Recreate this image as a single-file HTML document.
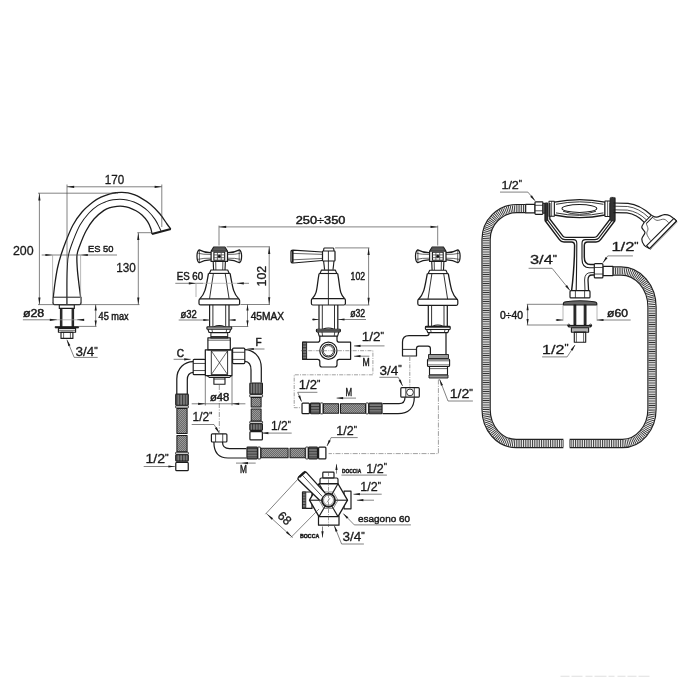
<!DOCTYPE html>
<html lang="en"><head><meta charset="utf-8"><title>Bath mixer technical drawing</title>
<style>html,body{margin:0;padding:0;background:#fff;}body{width:700px;height:700px;overflow:hidden;}svg{display:block;filter:grayscale(1);}
text{font-family:"Liberation Sans",sans-serif;}</style></head><body>
<svg width="700" height="700" viewBox="0 0 700 700" stroke-linecap="butt" stroke-linejoin="round">
<rect x="0" y="0" width="700" height="700" fill="#ffffff"/>
<defs>
<pattern id="braid" width="2" height="2" patternUnits="userSpaceOnUse">
<rect width="2" height="2" fill="#9a9a9a"/>
<path d="M0 2 L2 0 M-0.5 0.5 L0.5 -0.5 M1.5 2.5 L2.5 1.5" stroke="#555" stroke-width="0.7"/>
</pattern>
<pattern id="ribv" width="2.8" height="4" patternUnits="userSpaceOnUse">
<rect width="2.8" height="4" fill="#7d7d7d"/>
<rect width="1.1" height="4" fill="#3a3a3a"/>
</pattern>
<pattern id="ribh" width="4" height="2.8" patternUnits="userSpaceOnUse">
<rect width="4" height="2.8" fill="#7d7d7d"/>
<rect width="4" height="1.1" fill="#3a3a3a"/>
</pattern>
</defs>
<g id="spout">
<path d="M53.3 297 C53.58 294.67 54.3 287.83 55 283 C55.7 278.17 56.5 272.67 57.5 268 C58.5 263.33 59.58 259.5 61 255 C62.42 250.5 64 246 66 241 C68 236 70.33 229.83 73 225 C75.67 220.17 78.67 215.83 82 212 C85.33 208.17 89.83 204.47 93 202 C96.17 199.53 98.17 198.55 101 197.2 C103.83 195.85 107.5 194.65 110 193.9 C112.5 193.15 114 192.97 116 192.7 C118 192.43 120 192.27 122 192.3 C124 192.33 126 192.52 128 192.9 C130 193.28 132 193.85 134 194.6 C136 195.35 137.33 195.83 140 197.4 C142.67 198.97 146.67 201.23 150 204 C153.33 206.77 157.17 210.67 160 214 C162.83 217.33 165.2 221.5 167 224 C168.8 226.5 170.17 228.17 170.8 229" fill="none" stroke="#1c1c1c" stroke-width="1.29"/>
<path d="M66.9 304.5 C66.9 300.42 66.82 286.42 66.9 280 C66.98 273.58 67.13 270.17 67.4 266 C67.67 261.83 67.57 259.17 68.5 255 C69.43 250.83 71.08 246 73 241 C74.92 236 77.33 229.67 80 225 C82.67 220.33 86 216.27 89 213 C92 209.73 95.17 207.3 98 205.4 C100.83 203.5 103.5 202.53 106 201.6 C108.5 200.67 110.67 200.2 113 199.8 C115.33 199.4 117.67 199.18 120 199.2 C122.33 199.22 124.67 199.43 127 199.9 C129.33 200.37 131.83 201.15 134 202 C136.17 202.85 137.67 203.5 140 205 C142.33 206.5 145.5 208.6 148 211 C150.5 213.4 153.1 216.65 155 219.4 C156.9 222.15 158.4 225.57 159.4 227.5 C160.4 229.43 160.73 230.42 161 231" fill="none" stroke="#1c1c1c" stroke-width="1.01"/>
<path d="M80.6 297 C80.3 294.67 79.35 287.73 78.8 283 C78.25 278.27 77.6 273.27 77.3 268.6 C77 263.93 76.55 258.93 77 255 C77.45 251.07 78.5 249 80 245 C81.5 241 83.67 235.33 86 231 C88.33 226.67 91 222.43 94 219 C97 215.57 101.17 212.33 104 210.4 C106.83 208.47 108.83 208.08 111 207.4 C113.17 206.72 115 206.48 117 206.3 C119 206.12 121 206.08 123 206.3 C125 206.52 126.83 206.85 129 207.6 C131.17 208.35 133.83 209.57 136 210.8 C138.17 212.03 140.07 213.2 142 215 C143.93 216.8 146.13 219.35 147.6 221.6 C149.07 223.85 150.07 226.43 150.8 228.5 C151.53 230.57 151.8 233.08 152 234" fill="none" stroke="#1c1c1c" stroke-width="1.29"/>
<line x1="152" y1="234" x2="170.8" y2="229" stroke="#1c1c1c" stroke-width="2.24"/>
<path d="M53 297 L53 303 Q53 304.6 54.6 304.6 L79.4 304.6 Q81 304.6 81 303 L81 297" fill="none" stroke="#1c1c1c" stroke-width="1.23"/>
<line x1="53" y1="297.2" x2="81" y2="297.2" stroke="#1c1c1c" stroke-width="1.01"/>
<rect x="59.3" y="304.6" width="15" height="3.8" rx="0" fill="none" stroke="#1c1c1c" stroke-width="1.12"/>
<rect x="60.4" y="308.4" width="1.5" height="18" rx="0" fill="#333" stroke="#1c1c1c" stroke-width="1.01"/>
<rect x="72.1" y="308.4" width="1.5" height="18" rx="0" fill="#333" stroke="#1c1c1c" stroke-width="1.01"/>
<rect x="55.2" y="326.5" width="23.4" height="1.5" rx="0" fill="#1c1c1c" stroke="#1c1c1c" stroke-width="0.67"/>
<rect x="58.4" y="328.4" width="17.2" height="3.8" rx="0" fill="none" stroke="#1c1c1c" stroke-width="1.12"/>
<line x1="58.4" y1="330.3" x2="75.6" y2="330.3" stroke="#1c1c1c" stroke-width="0.67"/>
<rect x="61" y="332.2" width="11.9" height="6.2" rx="0" fill="none" stroke="#1c1c1c" stroke-width="1.12"/>
<line x1="63.6" y1="332.2" x2="63.6" y2="338.4" stroke="#1c1c1c" stroke-width="0.67"/>
<line x1="70.4" y1="332.2" x2="70.4" y2="338.4" stroke="#1c1c1c" stroke-width="0.67"/>
<line x1="67" y1="184.5" x2="67" y2="304" stroke="#4a4a4a" stroke-width="0.69"/>
<line x1="161.8" y1="184.5" x2="161.8" y2="227" stroke="#4a4a4a" stroke-width="0.69"/>
<line x1="67" y1="186.8" x2="161.8" y2="186.8" stroke="#4a4a4a" stroke-width="0.69"/>
<polygon points="67,186.8 74.2,185.7 74.2,187.9" fill="#1c1c1c"/>
<polygon points="161.8,186.8 154.6,187.9 154.6,185.7" fill="#1c1c1c"/>
<text x="104.8" y="184.4" font-size="12.48" text-anchor="start" fill="#1a1a1a" font-weight="normal" stroke="#1a1a1a" stroke-width="0.3" textLength="19.4" lengthAdjust="spacingAndGlyphs">170</text>
<line x1="38" y1="193.2" x2="118" y2="193.2" stroke="#4a4a4a" stroke-width="0.69"/>
<line x1="39.4" y1="193.2" x2="39.4" y2="304.6" stroke="#4a4a4a" stroke-width="0.69"/>
<polygon points="39.4,193.2 40.5,200.4 38.3,200.4" fill="#1c1c1c"/>
<polygon points="39.4,304.6 38.3,297.4 40.5,297.4" fill="#1c1c1c"/>
<line x1="38" y1="304.6" x2="139.5" y2="304.6" stroke="#4a4a4a" stroke-width="0.69"/>
<text x="12.9" y="255" font-size="12.48" text-anchor="start" fill="#1a1a1a" font-weight="normal" stroke="#1a1a1a" stroke-width="0.3" textLength="20.7" lengthAdjust="spacingAndGlyphs">200</text>
<line x1="138.3" y1="232.7" x2="138.3" y2="304.6" stroke="#4a4a4a" stroke-width="0.69"/>
<polygon points="138.3,232.7 139.4,239.9 137.2,239.9" fill="#1c1c1c"/>
<polygon points="138.3,304.6 137.2,297.4 139.4,297.4" fill="#1c1c1c"/>
<line x1="137.3" y1="232.7" x2="152" y2="232.7" stroke="#4a4a4a" stroke-width="0.69"/>
<text x="116.2" y="272" font-size="12.48" text-anchor="start" fill="#1a1a1a" font-weight="normal" stroke="#1a1a1a" stroke-width="0.3" textLength="19.6" lengthAdjust="spacingAndGlyphs">130</text>
<line x1="41.7" y1="255" x2="117" y2="255" stroke="#4a4a4a" stroke-width="0.69"/>
<polygon points="52.6,255 45.4,256.1 45.4,253.9" fill="#1c1c1c"/>
<polygon points="80.6,255 87.8,253.9 87.8,256.1" fill="#1c1c1c"/>
<line x1="52.6" y1="255" x2="52.6" y2="302" stroke="#999" stroke-width="0.69"/>
<line x1="80.6" y1="255" x2="80.6" y2="302" stroke="#999" stroke-width="0.69"/>
<text x="88" y="251.5" font-size="9.54" text-anchor="start" fill="#1a1a1a" font-weight="normal" stroke="#1a1a1a" stroke-width="0.45" textLength="25.5" lengthAdjust="spacingAndGlyphs">ES 50</text>
<line x1="22.9" y1="319.8" x2="57" y2="319.8" stroke="#4a4a4a" stroke-width="0.69"/>
<line x1="57" y1="319.8" x2="77" y2="319.8" stroke="#999" stroke-width="0.69"/>
<polygon points="57,319.8 49.8,320.9 49.8,318.7" fill="#1c1c1c"/>
<line x1="77" y1="319.8" x2="83" y2="319.8" stroke="#4a4a4a" stroke-width="0.69"/>
<polygon points="77,319.8 84.2,318.7 84.2,320.9" fill="#1c1c1c"/>
<text x="22.9" y="317.1" font-size="10.6" text-anchor="start" fill="#1a1a1a" font-weight="normal" stroke="#1a1a1a" stroke-width="0.45" textLength="21.4" lengthAdjust="spacingAndGlyphs">ø28</text>
<line x1="95.7" y1="304.6" x2="95.7" y2="326.4" stroke="#4a4a4a" stroke-width="0.69"/>
<polygon points="95.7,304.6 96.8,310.6 94.6,310.6" fill="#1c1c1c"/>
<polygon points="95.7,326.4 94.6,320.4 96.8,320.4" fill="#1c1c1c"/>
<line x1="78.8" y1="326.4" x2="96.5" y2="326.4" stroke="#4a4a4a" stroke-width="0.69"/>
<text x="98.6" y="320" font-size="10.07" text-anchor="start" fill="#1a1a1a" font-weight="normal" stroke="#1a1a1a" stroke-width="0.45" textLength="30" lengthAdjust="spacingAndGlyphs">45 max</text>
<line x1="66.9" y1="339.7" x2="74.2" y2="357.4" stroke="#4a4a4a" stroke-width="0.69"/>
<line x1="74.2" y1="357.4" x2="97.7" y2="357.4" stroke="#4a4a4a" stroke-width="0.69"/>
<polygon points="66.9,339.7 70.39,345.29 68.36,346.13" fill="#1c1c1c"/>
<text x="75.4" y="356" font-size="12.48" fill="#1a1a1a" stroke="#1a1a1a" stroke-width="0.3" textLength="22.3" lengthAdjust="spacingAndGlyphs">3/4<tspan font-size="8.99" dy="-3.24">&quot;</tspan></text>
</g>
<g id="valves">
<line x1="219" y1="226.9" x2="437.7" y2="226.9" stroke="#4a4a4a" stroke-width="0.69"/>
<polygon points="219,226.9 226.2,225.8 226.2,228" fill="#1c1c1c"/>
<polygon points="437.7,226.9 430.5,228 430.5,225.8" fill="#1c1c1c"/>
<line x1="219" y1="225.6" x2="219" y2="245.5" stroke="#4a4a4a" stroke-width="0.69"/>
<line x1="437.7" y1="225.6" x2="437.7" y2="245.5" stroke="#4a4a4a" stroke-width="0.69"/>
<text x="295.7" y="224.2" font-size="11.13" text-anchor="start" fill="#1a1a1a" font-weight="normal" stroke="#1a1a1a" stroke-width="0.45" textLength="49.7" lengthAdjust="spacingAndGlyphs">250÷350</text>
<path d="M211.1 261.4 L211.1 251.2 L213.7 247 L224.9 247 L227.5 251.2 L227.5 261.4 Z" fill="none" stroke="#1c1c1c" stroke-width="1.23"/>
<path d="M214.1 247.6 L224.5 247.6 L226.5 250.5 L212.1 250.5 Z" fill="#5a5a5a" stroke="#1c1c1c" stroke-width="0.56"/>
<line x1="211.1" y1="251.2" x2="227.5" y2="251.2" stroke="#1c1c1c" stroke-width="1.01"/>
<rect x="213.9" y="252.3" width="10.8" height="8" rx="0" fill="none" stroke="#1c1c1c" stroke-width="1.12"/>
<line x1="217.4" y1="252.3" x2="217.4" y2="260.3" stroke="#444" stroke-width="0.78"/>
<line x1="221.2" y1="252.3" x2="221.2" y2="260.3" stroke="#444" stroke-width="0.78"/>
<line x1="213.9" y1="254.9" x2="224.7" y2="254.9" stroke="#444" stroke-width="0.78"/>
<line x1="213.9" y1="257.7" x2="224.7" y2="257.7" stroke="#444" stroke-width="0.78"/>
<circle cx="219.3" cy="256.3" r="1.25" fill="#111" stroke="#1c1c1c" stroke-width="0.56"/>
<path d="M211.1 252.7 C206.1 252.9 202.1 251.4 199.2 249.9 Q197 251.2 197 256.2 Q197 261.4 199.2 262.7 C202.1 261.1 206.1 259.7 211.1 259.9" fill="none" stroke="#1c1c1c" stroke-width="1.23"/>
<path d="M211.1 254.4 Q203.1 254.6 198.2 253.3" fill="none" stroke="#1c1c1c" stroke-width="0.67"/>
<path d="M211.1 258.2 Q203.1 258 198.2 259.3" fill="none" stroke="#1c1c1c" stroke-width="0.67"/>
<line x1="199.4" y1="250.4" x2="199.4" y2="262.3" stroke="#1c1c1c" stroke-width="0.67"/>
<path d="M227.5 252.7 C232.5 252.9 236.5 251.4 239.4 249.9 Q241.6 251.2 241.6 256.2 Q241.6 261.4 239.4 262.7 C236.5 261.1 232.5 259.7 227.5 259.9" fill="none" stroke="#1c1c1c" stroke-width="1.23"/>
<path d="M227.5 254.4 Q235.5 254.6 240.4 253.3" fill="none" stroke="#1c1c1c" stroke-width="0.67"/>
<path d="M227.5 258.2 Q235.5 258 240.4 259.3" fill="none" stroke="#1c1c1c" stroke-width="0.67"/>
<line x1="239.2" y1="250.4" x2="239.2" y2="262.3" stroke="#1c1c1c" stroke-width="0.67"/>
<path d="M213.2 261.4 L213.6 270" fill="none" stroke="#1c1c1c" stroke-width="1.12"/>
<path d="M225.4 261.4 L225 270" fill="none" stroke="#1c1c1c" stroke-width="1.12"/>
<line x1="215.7" y1="261.4" x2="215.9" y2="270" stroke="#1c1c1c" stroke-width="0.78"/>
<line x1="222.9" y1="261.4" x2="222.7" y2="270" stroke="#1c1c1c" stroke-width="0.78"/>
<path d="M209.4 273.4 L210.9 270 L227.7 270 L229.2 273.4" fill="none" stroke="#1c1c1c" stroke-width="1.12"/>
<line x1="208.5" y1="273.4" x2="230.1" y2="273.4" stroke="#1c1c1c" stroke-width="1.12"/>
<path d="M208.5 273.4 C205.9 287.4 205.4 293.4 199.8 298.9" fill="none" stroke="#1c1c1c" stroke-width="1.29"/>
<path d="M230.1 273.4 C232.7 287.4 233.2 293.4 238.8 298.9" fill="none" stroke="#1c1c1c" stroke-width="1.29"/>
<line x1="213.4" y1="273.4" x2="209.5" y2="298.9" stroke="#1c1c1c" stroke-width="0.9"/>
<line x1="225.2" y1="273.4" x2="229.1" y2="298.9" stroke="#1c1c1c" stroke-width="0.9"/>
<path d="M200.5 298.9 Q199 298.9 199 300.4 L199 303.4 Q199 304.9 200.5 304.9 L238.1 304.9 Q239.6 304.9 239.6 303.4 L239.6 300.4 Q239.6 298.9 238.1 298.9 Z" fill="none" stroke="#1c1c1c" stroke-width="1.23"/>
<line x1="209.6" y1="304.9" x2="209.6" y2="326.7" stroke="#1c1c1c" stroke-width="1.23"/>
<line x1="229" y1="304.9" x2="229" y2="326.7" stroke="#1c1c1c" stroke-width="1.23"/>
<line x1="212.9" y1="304.9" x2="212.9" y2="326.7" stroke="#1c1c1c" stroke-width="0.9"/>
<line x1="225.7" y1="304.9" x2="225.7" y2="326.7" stroke="#1c1c1c" stroke-width="0.9"/>
<path d="M213.8 326.7 Q219.3 324.1 224.8 326.7" fill="none" stroke="#1c1c1c" stroke-width="1.01"/>
<rect x="206.9" y="326.7" width="24.8" height="2.6" rx="0.8" fill="#fff" stroke="#1c1c1c" stroke-width="1.12"/>
<line x1="206.9" y1="327.9" x2="231.7" y2="327.9" stroke="#1c1c1c" stroke-width="0.78"/>
<path d="M207.9 329.3 L209.1 332.5 L229.5 332.5 L230.7 329.3" fill="none" stroke="#1c1c1c" stroke-width="1.12"/>
<line x1="211.9" y1="329.3" x2="212.5" y2="332.5" stroke="#1c1c1c" stroke-width="0.78"/>
<line x1="226.7" y1="329.3" x2="226.1" y2="332.5" stroke="#1c1c1c" stroke-width="0.78"/>
<rect x="210.9" y="332.7" width="16.8" height="5.2" rx="0" fill="none" stroke="#1c1c1c" stroke-width="1.01"/>
<line x1="210.9" y1="336.6" x2="227.7" y2="336.6" stroke="#1c1c1c" stroke-width="1.01"/>
<rect x="207.9" y="337.9" width="22.4" height="12" rx="0" fill="none" stroke="#1c1c1c" stroke-width="1.18"/>
<line x1="207.9" y1="340.2" x2="230.3" y2="340.2" stroke="#1c1c1c" stroke-width="0.67"/>
<rect x="205.3" y="349.9" width="26.7" height="25.7" rx="0" fill="none" stroke="#1c1c1c" stroke-width="1.23"/>
<rect x="211.3" y="350.9" width="16.3" height="23.7" rx="0" fill="none" stroke="#1c1c1c" stroke-width="0.9"/>
<line x1="211.3" y1="350.9" x2="227.6" y2="374.6" stroke="#1c1c1c" stroke-width="0.67"/>
<line x1="227.6" y1="350.9" x2="211.3" y2="374.6" stroke="#1c1c1c" stroke-width="0.67"/>
<path d="M207 375.6 L209.6 377.6 L229.3 377.6 L231.6 375.6" fill="none" stroke="#1c1c1c" stroke-width="1.01"/>
<rect x="213.9" y="377.6" width="11.1" height="6.6" rx="0" fill="none" stroke="#1c1c1c" stroke-width="1.12"/>
<line x1="213.9" y1="379.2" x2="225" y2="379.2" stroke="#1c1c1c" stroke-width="0.67"/>
<rect x="232.6" y="348.1" width="12.2" height="15.5" rx="1" fill="#fff" stroke="#1c1c1c" stroke-width="1.18"/>
<line x1="232.6" y1="352.29" x2="244.8" y2="352.29" stroke="#1c1c1c" stroke-width="0.78"/>
<line x1="232.6" y1="359.42" x2="244.8" y2="359.42" stroke="#1c1c1c" stroke-width="0.78"/>
<path d="M244.8 349.6 C253 349.8 261.3 356 261.3 368 L261.3 382.4" fill="none" stroke="#1c1c1c" stroke-width="1.23"/>
<path d="M244.8 361.4 C248.6 361.6 251 364.6 251 370 L251 382.4" fill="none" stroke="#1c1c1c" stroke-width="1.23"/>
<rect x="193.2" y="359.3" width="12.1" height="15.4" rx="1" fill="#fff" stroke="#1c1c1c" stroke-width="1.18"/>
<line x1="193.2" y1="363.46" x2="205.3" y2="363.46" stroke="#1c1c1c" stroke-width="0.78"/>
<line x1="193.2" y1="370.54" x2="205.3" y2="370.54" stroke="#1c1c1c" stroke-width="0.78"/>
<path d="M193.2 361.6 C184.5 361.8 176.8 368 176.8 379 L176.8 394" fill="none" stroke="#1c1c1c" stroke-width="1.23"/>
<path d="M193.2 372.4 C189.6 372.6 187.3 375.2 187.3 380 L187.3 394" fill="none" stroke="#1c1c1c" stroke-width="1.23"/>
<text x="255.6" y="345.6" font-size="10.07" text-anchor="start" fill="#1a1a1a" font-weight="normal" stroke="#1a1a1a" stroke-width="0.45">F</text>
<line x1="247.3" y1="349" x2="264.5" y2="349" stroke="#4a4a4a" stroke-width="0.69"/>
<polygon points="247.3,349 253.8,347.9 253.8,350.1" fill="#1c1c1c"/>
<text x="176.8" y="356.8" font-size="10.07" text-anchor="start" fill="#1a1a1a" font-weight="normal" stroke="#1a1a1a" stroke-width="0.45">C</text>
<line x1="173.6" y1="359.3" x2="190.7" y2="359.3" stroke="#4a4a4a" stroke-width="0.69"/>
<polygon points="190.7,359.3 184.2,360.4 184.2,358.2" fill="#1c1c1c"/>
<line x1="175.3" y1="283.3" x2="203" y2="283.3" stroke="#4a4a4a" stroke-width="0.69"/>
<line x1="203" y1="283.3" x2="236" y2="283.3" stroke="#aaa" stroke-width="0.69"/>
<polygon points="196,283.3 188.8,284.4 188.8,282.2" fill="#1c1c1c"/>
<line x1="196" y1="283.3" x2="196" y2="297" stroke="#aaa" stroke-width="0.9"/>
<line x1="236.6" y1="283.3" x2="249" y2="283.3" stroke="#4a4a4a" stroke-width="0.69"/>
<polygon points="236.6,283.3 243.8,282.2 243.8,284.4" fill="#1c1c1c"/>
<text x="176.7" y="280.4" font-size="10.07" text-anchor="start" fill="#1a1a1a" font-weight="normal" stroke="#1a1a1a" stroke-width="0.45" textLength="26.4" lengthAdjust="spacingAndGlyphs">ES 60</text>
<line x1="226.7" y1="246.8" x2="270" y2="246.8" stroke="#4a4a4a" stroke-width="0.69"/>
<line x1="240.4" y1="304.5" x2="270" y2="304.5" stroke="#4a4a4a" stroke-width="0.69"/>
<line x1="269.2" y1="246.8" x2="269.2" y2="304.5" stroke="#4a4a4a" stroke-width="0.69"/>
<polygon points="269.2,246.8 270.3,254 268.1,254" fill="#1c1c1c"/>
<polygon points="269.2,304.5 268.1,297.3 270.3,297.3" fill="#1c1c1c"/>
<text x="266.2" y="276.1" font-size="12.48" text-anchor="middle" fill="#1a1a1a" font-weight="normal" stroke="#1a1a1a" stroke-width="0.3" textLength="20.6" lengthAdjust="spacingAndGlyphs" transform="rotate(-90 266.2 276.1)">102</text>
<line x1="178.7" y1="320" x2="209.8" y2="320" stroke="#4a4a4a" stroke-width="0.69"/>
<polygon points="209.8,320 203.3,321.1 203.3,318.9" fill="#1c1c1c"/>
<line x1="229" y1="320" x2="235.5" y2="320" stroke="#4a4a4a" stroke-width="0.69"/>
<polygon points="229,320 235.5,318.9 235.5,321.1" fill="#1c1c1c"/>
<text x="180.4" y="318.1" font-size="10.07" text-anchor="start" fill="#1a1a1a" font-weight="normal" stroke="#1a1a1a" stroke-width="0.45" textLength="16.3" lengthAdjust="spacingAndGlyphs">ø32</text>
<line x1="247.5" y1="304.5" x2="247.5" y2="326.5" stroke="#4a4a4a" stroke-width="0.69"/>
<polygon points="247.5,304.5 248.6,310.5 246.4,310.5" fill="#1c1c1c"/>
<polygon points="247.5,326.5 246.4,320.5 248.6,320.5" fill="#1c1c1c"/>
<line x1="231" y1="326.5" x2="248.3" y2="326.5" stroke="#4a4a4a" stroke-width="0.69"/>
<text x="250.7" y="319.5" font-size="10.6" text-anchor="start" fill="#1a1a1a" font-weight="normal" stroke="#1a1a1a" stroke-width="0.45" textLength="33.5" lengthAdjust="spacingAndGlyphs">45MAX</text>
<line x1="205.3" y1="376" x2="205.3" y2="405.5" stroke="#4a4a4a" stroke-width="0.69"/>
<line x1="232" y1="376" x2="232" y2="405.5" stroke="#4a4a4a" stroke-width="0.69"/>
<line x1="191.7" y1="403.8" x2="245.4" y2="403.8" stroke="#4a4a4a" stroke-width="0.69"/>
<polygon points="205.3,403.8 198.1,404.9 198.1,402.7" fill="#1c1c1c"/>
<polygon points="232,403.8 239.2,402.7 239.2,404.9" fill="#1c1c1c"/>
<text x="209.9" y="400.8" font-size="10.6" text-anchor="start" fill="#1a1a1a" font-weight="normal" stroke="#1a1a1a" stroke-width="0.45" textLength="19.4" lengthAdjust="spacingAndGlyphs">ø48</text>
<line x1="219.3" y1="385" x2="219.3" y2="432.5" stroke="#4a4a4a" stroke-width="0.56" stroke-dasharray="5 1.5 1 1.5"/>
<path d="M322.5 252 L293 250.2 Q291 250.2 291 252 L291 261 Q291 263 293 263 L322.5 260.5" fill="none" stroke="#1c1c1c" stroke-width="1.23"/>
<line x1="292.8" y1="250.4" x2="292.8" y2="262.8" stroke="#1c1c1c" stroke-width="1.57"/>
<line x1="293" y1="253.4" x2="322.5" y2="254.4" stroke="#1c1c1c" stroke-width="0.67"/>
<line x1="293" y1="259.8" x2="322.5" y2="258.4" stroke="#1c1c1c" stroke-width="0.67"/>
<rect x="322.5" y="251" width="12.5" height="10" rx="0.8" fill="none" stroke="#1c1c1c" stroke-width="1.23"/>
<path d="M323.5 251 L323.9 248.4 Q324 248 324.6 248 L333 248 Q333.6 248 333.7 248.4 L334 251" fill="none" stroke="#1c1c1c" stroke-width="1.12"/>
<path d="M323.6 261 L324.6 269.8" fill="none" stroke="#1c1c1c" stroke-width="1.12"/>
<path d="M334 261 L333 269.8" fill="none" stroke="#1c1c1c" stroke-width="1.12"/>
<path d="M320 273.5 L321.5 270.1 L335.3 270.1 L336.8 273.5" fill="none" stroke="#1c1c1c" stroke-width="1.12"/>
<line x1="319.1" y1="273.5" x2="337.7" y2="273.5" stroke="#1c1c1c" stroke-width="1.12"/>
<path d="M319.1 273.5 C316.5 287.5 317.8 293.1 312.2 298.6" fill="none" stroke="#1c1c1c" stroke-width="1.29"/>
<path d="M337.7 273.5 C340.3 287.5 339 293.1 344.6 298.6" fill="none" stroke="#1c1c1c" stroke-width="1.29"/>
<path d="M312.9 298.6 Q311.4 298.6 311.4 300.1 L311.4 303.5 Q311.4 305 312.9 305 L343.9 305 Q345.4 305 345.4 303.5 L345.4 300.1 Q345.4 298.6 343.9 298.6 Z" fill="none" stroke="#1c1c1c" stroke-width="1.23"/>
<line x1="328.4" y1="251" x2="328.4" y2="305" stroke="#222" stroke-width="0.9"/>
<line x1="319" y1="305" x2="319" y2="329.3" stroke="#1c1c1c" stroke-width="1.23"/>
<line x1="337.8" y1="305" x2="337.8" y2="329.3" stroke="#1c1c1c" stroke-width="1.23"/>
<line x1="322.3" y1="305" x2="322.3" y2="329.3" stroke="#1c1c1c" stroke-width="0.9"/>
<line x1="334.5" y1="305" x2="334.5" y2="329.3" stroke="#1c1c1c" stroke-width="0.9"/>
<path d="M322.9 329.3 Q328.4 326.7 333.9 329.3" fill="none" stroke="#1c1c1c" stroke-width="1.01"/>
<rect x="316.4" y="329.3" width="24" height="2.6" rx="0.8" fill="#fff" stroke="#1c1c1c" stroke-width="1.12"/>
<line x1="316.4" y1="330.5" x2="340.4" y2="330.5" stroke="#1c1c1c" stroke-width="0.78"/>
<path d="M318 331.9 L319.2 336.1 L337.6 336.1 L338.8 331.9" fill="none" stroke="#1c1c1c" stroke-width="1.12"/>
<line x1="322" y1="331.9" x2="322.6" y2="336.1" stroke="#1c1c1c" stroke-width="0.78"/>
<line x1="334.8" y1="331.9" x2="334.2" y2="336.1" stroke="#1c1c1c" stroke-width="0.78"/>
<path d="M319.8 336.1 L319.8 340 Q319.8 342.2 317.6 342.2 L302.6 342.2 L302.6 359.3 L317.6 359.3 Q319.8 359.3 319.8 361.5 L319.8 364.8 Q319.8 367 322 367 L334.8 367 Q337 367 337 364.8 L337 361.5 Q337 359.3 339.2 359.3 L350.6 359.3 L350.6 342.2 L339.2 342.2 Q337 342.2 337 340 L337 336.1" fill="none" stroke="#1c1c1c" stroke-width="1.23"/>
<rect x="302.6" y="342.2" width="4" height="17.1" rx="0" fill="url(#ribh)" stroke="#1c1c1c" stroke-width="0.9"/>
<circle cx="328.4" cy="350.7" r="8.6" fill="#fff" stroke="#1c1c1c" stroke-width="1.23"/>
<circle cx="328.4" cy="350.7" r="6.4" fill="none" stroke="#1c1c1c" stroke-width="1.01"/>
<circle cx="328.4" cy="350.7" r="5.1" fill="none" stroke="#1c1c1c" stroke-width="0.78"/>
<line x1="335.1" y1="247.9" x2="369.4" y2="247.9" stroke="#4a4a4a" stroke-width="0.69"/>
<line x1="345.4" y1="305" x2="369.4" y2="305" stroke="#4a4a4a" stroke-width="0.69"/>
<line x1="368.6" y1="247.9" x2="368.6" y2="305" stroke="#4a4a4a" stroke-width="0.69"/>
<polygon points="368.6,247.9 369.7,255.1 367.5,255.1" fill="#1c1c1c"/>
<polygon points="368.6,305 367.5,297.8 369.7,297.8" fill="#1c1c1c"/>
<text x="350.6" y="280.4" font-size="10.6" text-anchor="start" fill="#1a1a1a" font-weight="normal" stroke="#1a1a1a" stroke-width="0.45" textLength="14.5" lengthAdjust="spacingAndGlyphs">102</text>
<line x1="312" y1="319.5" x2="319.2" y2="319.5" stroke="#4a4a4a" stroke-width="0.69"/>
<polygon points="319.2,319.5 312.7,320.6 312.7,318.4" fill="#1c1c1c"/>
<line x1="338" y1="319.5" x2="366" y2="319.5" stroke="#4a4a4a" stroke-width="0.69"/>
<polygon points="338,319.5 344.5,318.4 344.5,320.6" fill="#1c1c1c"/>
<text x="350.2" y="317.3" font-size="10.07" text-anchor="start" fill="#1a1a1a" font-weight="normal" stroke="#1a1a1a" stroke-width="0.45" textLength="15" lengthAdjust="spacingAndGlyphs">ø32</text>
<text x="361.7" y="341.3" font-size="12.48" fill="#1a1a1a" stroke="#1a1a1a" stroke-width="0.3" textLength="22.3" lengthAdjust="spacingAndGlyphs">1/2<tspan font-size="8.99" dy="-3.24">&quot;</tspan></text>
<line x1="354" y1="345.9" x2="384.5" y2="345.9" stroke="#4a4a4a" stroke-width="0.69"/>
<polygon points="354,345.9 360.5,344.8 360.5,347" fill="#1c1c1c"/>
<line x1="354" y1="356.2" x2="369.4" y2="356.2" stroke="#4a4a4a" stroke-width="0.69"/>
<polygon points="354,356.2 360.5,355.1 360.5,357.3" fill="#1c1c1c"/>
<text x="362.4" y="366.2" font-size="10.81" text-anchor="start" fill="#1a1a1a" font-weight="normal" stroke="#1a1a1a" stroke-width="0.45" textLength="7.2" lengthAdjust="spacingAndGlyphs">M</text>
<path d="M300.9 350.7 L372.9 350.7 L372.9 374.8 L294.2 374.8 L294.2 407.7 L301 407.7" fill="none" stroke="#555" stroke-width="0.56" stroke-dasharray="4 1.2 1 1.2"/>
<path d="M429.6 261.4 L429.6 251.2 L432.2 247 L443.4 247 L446 251.2 L446 261.4 Z" fill="none" stroke="#1c1c1c" stroke-width="1.23"/>
<path d="M432.6 247.6 L443 247.6 L445 250.5 L430.6 250.5 Z" fill="#5a5a5a" stroke="#1c1c1c" stroke-width="0.56"/>
<line x1="429.6" y1="251.2" x2="446" y2="251.2" stroke="#1c1c1c" stroke-width="1.01"/>
<rect x="432.4" y="252.3" width="10.8" height="8" rx="0" fill="none" stroke="#1c1c1c" stroke-width="1.12"/>
<line x1="435.9" y1="252.3" x2="435.9" y2="260.3" stroke="#444" stroke-width="0.78"/>
<line x1="439.7" y1="252.3" x2="439.7" y2="260.3" stroke="#444" stroke-width="0.78"/>
<line x1="432.4" y1="254.9" x2="443.2" y2="254.9" stroke="#444" stroke-width="0.78"/>
<line x1="432.4" y1="257.7" x2="443.2" y2="257.7" stroke="#444" stroke-width="0.78"/>
<circle cx="437.8" cy="256.3" r="1.25" fill="#111" stroke="#1c1c1c" stroke-width="0.56"/>
<path d="M429.6 252.7 C424.6 252.9 420.6 251.4 417.7 249.9 Q415.5 251.2 415.5 256.2 Q415.5 261.4 417.7 262.7 C420.6 261.1 424.6 259.7 429.6 259.9" fill="none" stroke="#1c1c1c" stroke-width="1.23"/>
<path d="M429.6 254.4 Q421.6 254.6 416.7 253.3" fill="none" stroke="#1c1c1c" stroke-width="0.67"/>
<path d="M429.6 258.2 Q421.6 258 416.7 259.3" fill="none" stroke="#1c1c1c" stroke-width="0.67"/>
<line x1="417.9" y1="250.4" x2="417.9" y2="262.3" stroke="#1c1c1c" stroke-width="0.67"/>
<path d="M446 252.7 C451 252.9 455 251.4 457.9 249.9 Q460.1 251.2 460.1 256.2 Q460.1 261.4 457.9 262.7 C455 261.1 451 259.7 446 259.9" fill="none" stroke="#1c1c1c" stroke-width="1.23"/>
<path d="M446 254.4 Q454 254.6 458.9 253.3" fill="none" stroke="#1c1c1c" stroke-width="0.67"/>
<path d="M446 258.2 Q454 258 458.9 259.3" fill="none" stroke="#1c1c1c" stroke-width="0.67"/>
<line x1="457.7" y1="250.4" x2="457.7" y2="262.3" stroke="#1c1c1c" stroke-width="0.67"/>
<path d="M431.7 261.4 L432.1 270" fill="none" stroke="#1c1c1c" stroke-width="1.12"/>
<path d="M443.9 261.4 L443.5 270" fill="none" stroke="#1c1c1c" stroke-width="1.12"/>
<line x1="434.2" y1="261.4" x2="434.4" y2="270" stroke="#1c1c1c" stroke-width="0.78"/>
<line x1="441.4" y1="261.4" x2="441.2" y2="270" stroke="#1c1c1c" stroke-width="0.78"/>
<path d="M428.2 273.6 L429.7 270.2 L445.9 270.2 L447.4 273.6" fill="none" stroke="#1c1c1c" stroke-width="1.12"/>
<line x1="427.3" y1="273.6" x2="448.3" y2="273.6" stroke="#1c1c1c" stroke-width="1.12"/>
<path d="M427.3 273.6 C424.7 287.6 424.2 293.7 418.6 299.2" fill="none" stroke="#1c1c1c" stroke-width="1.29"/>
<path d="M448.3 273.6 C450.9 287.6 451.4 293.7 457 299.2" fill="none" stroke="#1c1c1c" stroke-width="1.29"/>
<line x1="431.9" y1="273.6" x2="428" y2="299.2" stroke="#1c1c1c" stroke-width="0.9"/>
<line x1="443.7" y1="273.6" x2="447.6" y2="299.2" stroke="#1c1c1c" stroke-width="0.9"/>
<path d="M419.3 299.2 Q417.8 299.2 417.8 300.7 L417.8 303.8 Q417.8 305.3 419.3 305.3 L456.3 305.3 Q457.8 305.3 457.8 303.8 L457.8 300.7 Q457.8 299.2 456.3 299.2 Z" fill="none" stroke="#1c1c1c" stroke-width="1.23"/>
<line x1="428.3" y1="305.2" x2="428.3" y2="326.4" stroke="#1c1c1c" stroke-width="1.23"/>
<line x1="447.3" y1="305.2" x2="447.3" y2="326.4" stroke="#1c1c1c" stroke-width="1.23"/>
<line x1="431.6" y1="305.2" x2="431.6" y2="326.4" stroke="#1c1c1c" stroke-width="0.9"/>
<line x1="444" y1="305.2" x2="444" y2="326.4" stroke="#1c1c1c" stroke-width="0.9"/>
<path d="M432.3 326.4 Q437.8 323.8 443.3 326.4" fill="none" stroke="#1c1c1c" stroke-width="1.01"/>
<rect x="425.4" y="326.4" width="24.8" height="3.1" rx="0.8" fill="#fff" stroke="#1c1c1c" stroke-width="1.12"/>
<line x1="425.4" y1="327.6" x2="450.2" y2="327.6" stroke="#1c1c1c" stroke-width="0.78"/>
<path d="M426.6 329.5 L427.8 332.6 L447.8 332.6 L449 329.5" fill="none" stroke="#1c1c1c" stroke-width="1.12"/>
<line x1="430.6" y1="329.5" x2="431.2" y2="332.6" stroke="#1c1c1c" stroke-width="0.78"/>
<line x1="445" y1="329.5" x2="444.4" y2="332.6" stroke="#1c1c1c" stroke-width="0.78"/>
<path d="M429 332.6 L429 333.6 Q429 335.6 427 335.6 L409 335.6 Q402.5 335.6 402.5 342 L402.5 356 L416.5 356 L416.5 348.6 Q416.5 346.2 419 346.2 L428 346.2 Q430.4 346.2 430.4 348.6 L430.4 354.5" fill="none" stroke="#1c1c1c" stroke-width="1.23"/>
<line x1="402.5" y1="349.4" x2="416.5" y2="349.4" stroke="#1c1c1c" stroke-width="0.9"/>
<line x1="446" y1="332.6" x2="446" y2="354.5" stroke="#1c1c1c" stroke-width="1.23"/>
<rect x="428.5" y="354.5" width="20" height="4.1" rx="0" fill="#999" stroke="#1c1c1c" stroke-width="0.9"/>
<rect x="427.5" y="359" width="22.1" height="7.5" rx="1" fill="none" stroke="#1c1c1c" stroke-width="1.12"/>
<line x1="427.5" y1="360.8" x2="449.6" y2="360.8" stroke="#1c1c1c" stroke-width="0.67"/>
<line x1="427.5" y1="364.9" x2="449.6" y2="364.9" stroke="#1c1c1c" stroke-width="0.67"/>
<rect x="429.5" y="366.5" width="18" height="8.5" rx="0" fill="none" stroke="#1c1c1c" stroke-width="1.12"/>
<line x1="429.5" y1="368.6" x2="447.5" y2="368.6" stroke="#1c1c1c" stroke-width="0.67"/>
<rect x="429" y="375" width="19" height="3" rx="0" fill="#999" stroke="#1c1c1c" stroke-width="0.9"/>
<line x1="409.8" y1="357" x2="409.8" y2="387.5" stroke="#4a4a4a" stroke-width="0.56" stroke-dasharray="4 1.2 1 1.2"/>
<path d="M438.4 379.5 L438.4 453.6 L328.6 453.6" fill="none" stroke="#555" stroke-width="0.56" stroke-dasharray="5 1.3 1 1.3"/>
<text x="449.7" y="397.9" font-size="12.48" fill="#1a1a1a" stroke="#1a1a1a" stroke-width="0.3" textLength="23.2" lengthAdjust="spacingAndGlyphs">1/2<tspan font-size="8.99" dy="-3.24">&quot;</tspan></text>
<line x1="448" y1="401" x2="472.9" y2="401" stroke="#4a4a4a" stroke-width="0.69"/>
<line x1="448" y1="401" x2="439.6" y2="379.3" stroke="#4a4a4a" stroke-width="0.69"/>
<polygon points="439.6,379.3 442.98,384.96 440.93,385.76" fill="#1c1c1c"/>
<text x="379.4" y="374.7" font-size="12.48" fill="#1a1a1a" stroke="#1a1a1a" stroke-width="0.3" textLength="22.3" lengthAdjust="spacingAndGlyphs">3/4<tspan font-size="8.99" dy="-3.24">&quot;</tspan></text>
<line x1="379.4" y1="377.3" x2="398.3" y2="377.3" stroke="#4a4a4a" stroke-width="0.69"/>
<line x1="398.3" y1="377.3" x2="402.6" y2="385.9" stroke="#4a4a4a" stroke-width="0.69"/>
<polygon points="402.6,385.9 398.71,380.58 400.67,379.6" fill="#1c1c1c"/>
</g>
<g id="hoses">
<rect x="175.71" y="394.16" width="12.58" height="11.18" rx="0.8" fill="url(#ribv)" stroke="#1c1c1c" stroke-width="1.12"/>
<rect x="176.9" y="408.4" width="10.19" height="25.09" rx="0" fill="url(#braid)" stroke="#1c1c1c" stroke-width="1.01"/>
<rect x="176.9" y="435.4" width="10.19" height="16.39" rx="0" fill="url(#braid)" stroke="#1c1c1c" stroke-width="1.01"/>
<rect x="175.6" y="405.85" width="12.8" height="2.1" rx="0.5" fill="#fff" stroke="#1c1c1c" stroke-width="0.9"/>
<rect x="175.6" y="452.25" width="12.8" height="2" rx="0.5" fill="#fff" stroke="#1c1c1c" stroke-width="0.9"/>
<rect x="175.71" y="454.76" width="12.58" height="6.38" rx="0.8" fill="url(#ribv)" stroke="#1c1c1c" stroke-width="1.12"/>
<rect x="175.77" y="462.32" width="12.47" height="8.27" rx="0.9" fill="#fff" stroke="#1c1c1c" stroke-width="1.23"/>
<text x="145.4" y="463.4" font-size="12.48" fill="#1a1a1a" stroke="#1a1a1a" stroke-width="0.3" textLength="23.2" lengthAdjust="spacingAndGlyphs">1/2<tspan font-size="8.99" dy="-3.24">&quot;</tspan></text>
<line x1="143.7" y1="466.5" x2="174.9" y2="466.5" stroke="#4a4a4a" stroke-width="0.69"/>
<polygon points="174.9,466.5 168.4,467.6 168.4,465.4" fill="#1c1c1c"/>
<rect x="249.86" y="382.96" width="12.58" height="11.18" rx="0.8" fill="url(#ribv)" stroke="#1c1c1c" stroke-width="1.12"/>
<rect x="251.2" y="397.5" width="9.89" height="9.59" rx="0" fill="url(#braid)" stroke="#1c1c1c" stroke-width="1.01"/>
<rect x="251.2" y="409" width="9.89" height="11.89" rx="0" fill="url(#braid)" stroke="#1c1c1c" stroke-width="1.01"/>
<rect x="249.75" y="394.65" width="12.8" height="2.4" rx="0.5" fill="#fff" stroke="#1c1c1c" stroke-width="0.9"/>
<rect x="249.75" y="421.35" width="12.8" height="1.9" rx="0.5" fill="#fff" stroke="#1c1c1c" stroke-width="0.9"/>
<rect x="249.86" y="423.76" width="12.58" height="6.58" rx="0.8" fill="url(#ribv)" stroke="#1c1c1c" stroke-width="1.12"/>
<rect x="249.92" y="431.52" width="12.47" height="8.27" rx="0.9" fill="#fff" stroke="#1c1c1c" stroke-width="1.23"/>
<text x="271.1" y="430" font-size="12.48" fill="#1a1a1a" stroke="#1a1a1a" stroke-width="0.3" textLength="19.8" lengthAdjust="spacingAndGlyphs">1/2<tspan font-size="8.99" dy="-3.24">&quot;</tspan></text>
<line x1="261.9" y1="433.1" x2="291.7" y2="433.1" stroke="#4a4a4a" stroke-width="0.69"/>
<polygon points="261.9,433.1 268.4,432 268.4,434.2" fill="#1c1c1c"/>
<text x="192.6" y="421.4" font-size="12.48" fill="#1a1a1a" stroke="#1a1a1a" stroke-width="0.3" textLength="19.7" lengthAdjust="spacingAndGlyphs">1/2<tspan font-size="8.99" dy="-3.24">&quot;</tspan></text>
<line x1="191.7" y1="424.5" x2="214" y2="424.5" stroke="#4a4a4a" stroke-width="0.69"/>
<line x1="214" y1="424.5" x2="219.1" y2="432.8" stroke="#4a4a4a" stroke-width="0.69"/>
<polygon points="219.3,433.2 214.92,428.27 216.79,427.1" fill="#1c1c1c"/>
<rect x="211.4" y="433.8" width="15.5" height="8.2" rx="1" fill="#fff" stroke="#1c1c1c" stroke-width="1.18"/>
<line x1="215.59" y1="433.8" x2="215.59" y2="442" stroke="#1c1c1c" stroke-width="0.78"/>
<line x1="222.72" y1="433.8" x2="222.72" y2="442" stroke="#1c1c1c" stroke-width="0.78"/>
<path d="M213.9 442 C213.9 452 218.5 458 228 458 L246.4 458" fill="none" stroke="#1c1c1c" stroke-width="1.23"/>
<path d="M222.5 442 C222.5 446.6 224.5 448.6 229.4 448.6 L246.4 448.6" fill="none" stroke="#1c1c1c" stroke-width="1.23"/>
<rect x="246.96" y="447.16" width="10.48" height="11.68" rx="0.8" fill="url(#ribh)" stroke="#1c1c1c" stroke-width="1.12"/>
<rect x="261" y="448.15" width="27.09" height="9.69" rx="0" fill="url(#braid)" stroke="#1c1c1c" stroke-width="1.01"/>
<rect x="290" y="448.15" width="15.19" height="9.69" rx="0" fill="url(#braid)" stroke="#1c1c1c" stroke-width="1.01"/>
<rect x="257.95" y="447.05" width="2.6" height="11.9" rx="0.5" fill="#fff" stroke="#1c1c1c" stroke-width="0.9"/>
<rect x="305.65" y="447.05" width="2.4" height="11.9" rx="0.5" fill="#fff" stroke="#1c1c1c" stroke-width="0.9"/>
<rect x="308.56" y="447.16" width="8.88" height="11.68" rx="0.8" fill="url(#ribh)" stroke="#1c1c1c" stroke-width="1.12"/>
<rect x="318.62" y="447.22" width="7.27" height="11.57" rx="0.9" fill="#fff" stroke="#1c1c1c" stroke-width="1.23"/>
<line x1="236" y1="463.1" x2="255.7" y2="463.1" stroke="#4a4a4a" stroke-width="0.69"/>
<polygon points="241.5,463.1 248,462 248,464.2" fill="#1c1c1c"/>
<text x="239.9" y="473" font-size="10.81" text-anchor="start" fill="#1a1a1a" font-weight="normal" stroke="#1a1a1a" stroke-width="0.45" textLength="6.9" lengthAdjust="spacingAndGlyphs">M</text>
<text x="336.3" y="434.9" font-size="12.48" fill="#1a1a1a" stroke="#1a1a1a" stroke-width="0.3" textLength="20.6" lengthAdjust="spacingAndGlyphs">1/2<tspan font-size="8.99" dy="-3.24">&quot;</tspan></text>
<line x1="331.1" y1="437.6" x2="357.7" y2="437.6" stroke="#4a4a4a" stroke-width="0.69"/>
<line x1="331.1" y1="437.6" x2="327" y2="446" stroke="#4a4a4a" stroke-width="0.69"/>
<polygon points="326.9,446.2 328.76,439.88 330.74,440.84" fill="#1c1c1c"/>
<rect x="302.02" y="403.12" width="7.37" height="10.57" rx="0.9" fill="#fff" stroke="#1c1c1c" stroke-width="1.23"/>
<rect x="310.56" y="403.06" width="9.18" height="10.68" rx="0.8" fill="url(#ribh)" stroke="#1c1c1c" stroke-width="1.12"/>
<rect x="323.4" y="403.65" width="15.19" height="9.49" rx="0" fill="url(#braid)" stroke="#1c1c1c" stroke-width="1.01"/>
<rect x="340.5" y="403.65" width="24.99" height="9.49" rx="0" fill="url(#braid)" stroke="#1c1c1c" stroke-width="1.01"/>
<rect x="320.25" y="402.95" width="2.7" height="10.9" rx="0.5" fill="#fff" stroke="#1c1c1c" stroke-width="0.9"/>
<rect x="365.95" y="402.95" width="2.5" height="10.9" rx="0.5" fill="#fff" stroke="#1c1c1c" stroke-width="0.9"/>
<rect x="368.96" y="403.06" width="13.08" height="10.68" rx="0.8" fill="url(#ribh)" stroke="#1c1c1c" stroke-width="1.12"/>
<text x="298.8" y="389" font-size="12.48" fill="#1a1a1a" stroke="#1a1a1a" stroke-width="0.3" textLength="21.5" lengthAdjust="spacingAndGlyphs">1/2<tspan font-size="8.99" dy="-3.24">&quot;</tspan></text>
<line x1="297.7" y1="392.3" x2="317.4" y2="392.3" stroke="#4a4a4a" stroke-width="0.69"/>
<line x1="297.7" y1="392.3" x2="301.5" y2="401.5" stroke="#4a4a4a" stroke-width="0.69"/>
<polygon points="301.7,401.9 298.15,396.35 300.17,395.49" fill="#1c1c1c"/>
<text x="345.6" y="395.8" font-size="10.81" text-anchor="start" fill="#1a1a1a" font-weight="normal" stroke="#1a1a1a" stroke-width="0.45" textLength="6.6" lengthAdjust="spacingAndGlyphs">M</text>
<line x1="336.6" y1="398.1" x2="356" y2="398.1" stroke="#4a4a4a" stroke-width="0.69"/>
<polygon points="336.6,398.1 343.1,397 343.1,399.2" fill="#1c1c1c"/>
<path d="M382.6 413.6 L398 413.6 C408 413.6 414.3 408 414.3 397.2" fill="none" stroke="#1c1c1c" stroke-width="1.23"/>
<path d="M382.6 403.6 L399 403.6 C403 403.6 405 401.6 405 397.2" fill="none" stroke="#1c1c1c" stroke-width="1.23"/>
<rect x="400.8" y="387.7" width="18.5" height="9.5" rx="1" fill="#fff" stroke="#1c1c1c" stroke-width="1.18"/>
<line x1="405.8" y1="387.7" x2="405.8" y2="397.2" stroke="#1c1c1c" stroke-width="0.78"/>
<line x1="414.31" y1="387.7" x2="414.31" y2="397.2" stroke="#1c1c1c" stroke-width="0.78"/>
<circle cx="410" cy="392.4" r="3.4" fill="none" stroke="#1c1c1c" stroke-width="0.9"/>
</g>
<g id="diverter">
<rect x="302.5" y="492" width="9.5" height="16.4" rx="0" fill="none" stroke="#1c1c1c" stroke-width="1.18"/>
<rect x="302.5" y="492" width="3.3" height="16.4" rx="0" fill="url(#ribh)" stroke="#1c1c1c" stroke-width="0.78"/>
<rect x="344" y="491.2" width="7" height="17.6" rx="0" fill="none" stroke="#1c1c1c" stroke-width="1.18"/>
<rect x="318.5" y="516" width="20.5" height="9.2" rx="0" fill="none" stroke="#1c1c1c" stroke-width="1.23"/>
<path d="M320 484 L320 479.4 Q320 478 321.4 478 L336.6 478 Q338 478 338 479.4 L338 484" fill="none" stroke="#1c1c1c" stroke-width="1.18"/>
<rect x="322.8" y="472.2" width="11.2" height="5.8" rx="0.8" fill="none" stroke="#1c1c1c" stroke-width="1.18"/>
<path d="M347.5 500.2 L338 516.65 L319 516.65 L309.5 500.2 L319 483.75 L338 483.75 Z" fill="#fff" stroke="#1c1c1c" stroke-width="1.34"/>
<line x1="335.5" y1="500.2" x2="347.5" y2="500.2" stroke="#1c1c1c" stroke-width="1.12"/>
<line x1="332" y1="506.26" x2="338" y2="516.65" stroke="#1c1c1c" stroke-width="1.12"/>
<line x1="325" y1="506.26" x2="319" y2="516.65" stroke="#1c1c1c" stroke-width="1.12"/>
<line x1="321.5" y1="500.2" x2="309.5" y2="500.2" stroke="#1c1c1c" stroke-width="1.12"/>
<line x1="325" y1="494.14" x2="319" y2="483.75" stroke="#1c1c1c" stroke-width="1.12"/>
<line x1="332" y1="494.14" x2="338" y2="483.75" stroke="#1c1c1c" stroke-width="1.12"/>
<path d="M338 500.2 L333.25 508.43 L323.75 508.43 L319 500.2 L323.75 491.97 L333.25 491.97 Z" fill="none" stroke="#555" stroke-width="0.67"/>
<circle cx="328.5" cy="500.2" r="6.6" fill="#fff" stroke="#1c1c1c" stroke-width="1.79"/>
<circle cx="328.5" cy="500.2" r="5" fill="none" stroke="#555" stroke-width="0.67"/>
<line x1="328.5" y1="472" x2="328.5" y2="527" stroke="#4a4a4a" stroke-width="0.56" stroke-dasharray="4 1.2 1 1.2"/>
<line x1="326.9" y1="502.4" x2="330.1" y2="498" stroke="#4a4a4a" stroke-width="0.56"/>
<path d="M325.4 493.4 L306.6 472.6 Q305 471.2 303.4 472.6 L298.6 477 Q297.2 478.6 298.6 480 L319.6 500.2" fill="#fff" stroke="#1c1c1c" stroke-width="1.29"/>
<line x1="302.4" y1="475.2" x2="322.4" y2="496.6" stroke="#1c1c1c" stroke-width="0.78"/>
<line x1="299.2" y1="477.2" x2="305.6" y2="471.6" stroke="#1c1c1c" stroke-width="2.02"/>
<line x1="266.2" y1="513.4" x2="292.8" y2="537.6" stroke="#4a4a4a" stroke-width="0.69"/>
<polygon points="267,514.1 273.07,518.13 271.59,519.76" fill="#1c1c1c"/>
<polygon points="292,536.9 285.93,532.87 287.41,531.24" fill="#1c1c1c"/>
<line x1="298" y1="479" x2="265.4" y2="514.2" stroke="#4a4a4a" stroke-width="0.69"/>
<line x1="319" y1="509" x2="290.8" y2="537.6" stroke="#4a4a4a" stroke-width="0.69"/>
<text x="284.4" y="518.4" font-size="12.48" text-anchor="middle" fill="#1a1a1a" font-weight="normal" stroke="#1a1a1a" stroke-width="0.3" textLength="13.5" lengthAdjust="spacingAndGlyphs" transform="rotate(43 284.4 518.4)" dominant-baseline="central">68</text>
<text x="299.9" y="538.3" font-size="5.94" text-anchor="start" fill="#1a1a1a" font-weight="bold" stroke="#1a1a1a" stroke-width="0.45" textLength="19.4" lengthAdjust="spacingAndGlyphs">BOCCA</text>
<line x1="322.5" y1="526.5" x2="322.5" y2="537.4" stroke="#4a4a4a" stroke-width="0.69"/>
<polygon points="322.5,537.8 321.4,531.3 323.6,531.3" fill="#1c1c1c"/>
<text x="342" y="472.6" font-size="5.94" text-anchor="start" fill="#1a1a1a" font-weight="bold" stroke="#1a1a1a" stroke-width="0.45" textLength="19.2" lengthAdjust="spacingAndGlyphs">DOCCIA</text>
<text x="366.3" y="472.6" font-size="12.48" fill="#1a1a1a" stroke="#1a1a1a" stroke-width="0.3" textLength="20.6" lengthAdjust="spacingAndGlyphs">1/2<tspan font-size="8.99" dy="-3.24">&quot;</tspan></text>
<line x1="341.4" y1="475.1" x2="386.9" y2="475.1" stroke="#4a4a4a" stroke-width="0.69"/>
<line x1="336.5" y1="473.6" x2="336.5" y2="464.5" stroke="#4a4a4a" stroke-width="0.69"/>
<polygon points="336.5,463.6 337.6,470.1 335.4,470.1" fill="#1c1c1c"/>
<text x="360.3" y="491.4" font-size="12.48" fill="#1a1a1a" stroke="#1a1a1a" stroke-width="0.3" textLength="20.6" lengthAdjust="spacingAndGlyphs">1/2<tspan font-size="8.99" dy="-3.24">&quot;</tspan></text>
<line x1="353.4" y1="494.2" x2="381.7" y2="494.2" stroke="#4a4a4a" stroke-width="0.69"/>
<polygon points="353.4,494.2 359.9,493.1 359.9,495.3" fill="#1c1c1c"/>
<line x1="356.9" y1="500.2" x2="374" y2="500.2" stroke="#4a4a4a" stroke-width="0.69"/>
<polygon points="356.9,500.2 363.4,499.1 363.4,501.3" fill="#1c1c1c"/>
<text x="358.1" y="521.7" font-size="9.54" text-anchor="start" fill="#1a1a1a" font-weight="normal" stroke="#1a1a1a" stroke-width="0.45" textLength="51.9" lengthAdjust="spacingAndGlyphs">esagono 60</text>
<line x1="354.3" y1="524.9" x2="410.9" y2="524.9" stroke="#4a4a4a" stroke-width="0.69"/>
<line x1="354.3" y1="524.9" x2="343.3" y2="513.6" stroke="#4a4a4a" stroke-width="0.69"/>
<polygon points="343.1,513.4 348.43,517.28 346.85,518.82" fill="#1c1c1c"/>
<text x="342.4" y="540.9" font-size="12.48" fill="#1a1a1a" stroke="#1a1a1a" stroke-width="0.3" textLength="22.3" lengthAdjust="spacingAndGlyphs">3/4<tspan font-size="8.99" dy="-3.24">&quot;</tspan></text>
<line x1="341.6" y1="544" x2="363.9" y2="544" stroke="#4a4a4a" stroke-width="0.69"/>
<line x1="341.6" y1="544" x2="334.3" y2="525.7" stroke="#4a4a4a" stroke-width="0.69"/>
<polygon points="334.2,525.4 337.61,531.04 335.56,531.85" fill="#1c1c1c"/>
</g>
<g id="shower">
<path d="M525.7 208.6 L516.8 208.6 A30.7 30.7 0 0 0 486.1 239.3 L486.1 409.5 A30 34 0 0 0 516.1 443.5 L563.4 443.5" fill="none" stroke="#222" stroke-width="9.4"/>
<path d="M525.7 208.6 L516.8 208.6 A30.7 30.7 0 0 0 486.1 239.3 L486.1 409.5 A30 34 0 0 0 516.1 443.5 L563.4 443.5" fill="none" stroke="#fff" stroke-width="7"/>
<path d="M525.7 208.6 L516.8 208.6 A30.7 30.7 0 0 0 486.1 239.3 L486.1 409.5 A30 34 0 0 0 516.1 443.5 L563.4 443.5" fill="none" stroke="#333" stroke-width="7" stroke-dasharray="0.9 0.9"/>
<path d="M569.6 443.5 L622.5 443.5 A29.5 34.5 0 0 0 652 409 L652 307 A31 36 0 0 0 621 271 L612.9 271" fill="none" stroke="#222" stroke-width="9.4"/>
<path d="M569.6 443.5 L622.5 443.5 A29.5 34.5 0 0 0 652 409 L652 307 A31 36 0 0 0 621 271 L612.9 271" fill="none" stroke="#fff" stroke-width="7"/>
<path d="M569.6 443.5 L622.5 443.5 A29.5 34.5 0 0 0 652 409 L652 307 A31 36 0 0 0 621 271 L612.9 271" fill="none" stroke="#333" stroke-width="7" stroke-dasharray="0.9 0.9"/>
<rect x="525.7" y="204.4" width="9.3" height="8.5" rx="0" fill="#fff" stroke="#1c1c1c" stroke-width="1.12"/>
<rect x="535" y="201.8" width="7.9" height="12.5" rx="0.8" fill="#fff" stroke="#1c1c1c" stroke-width="1.18"/>
<line x1="535" y1="205.3" x2="542.9" y2="205.3" stroke="#1c1c1c" stroke-width="0.78"/>
<line x1="535" y1="210.8" x2="542.9" y2="210.8" stroke="#1c1c1c" stroke-width="0.78"/>
<rect x="602.9" y="266.4" width="10" height="9.2" rx="0" fill="#fff" stroke="#1c1c1c" stroke-width="1.12"/>
<path d="M554.3 202.2 Q579.6 197 605 202.2 L605 215 Q579.6 220.2 554.3 215 Z" fill="#fff" stroke="#1c1c1c" stroke-width="1.29"/>
<path d="M556 204.3 Q579.6 199.4 603.4 204.3" fill="none" stroke="#1c1c1c" stroke-width="0.9"/>
<path d="M556 212.9 Q579.6 217.8 603.4 212.9" fill="none" stroke="#1c1c1c" stroke-width="0.9"/>
<ellipse cx="579.4" cy="208.5" rx="17.4" ry="3.9" fill="none" stroke="#1c1c1c" stroke-width="1.01"/>
<path d="M563 211.2 Q579.4 217.4 596 211.2" fill="none" stroke="#1c1c1c" stroke-width="0.9"/>
<rect x="549" y="201.2" width="5.3" height="15" rx="0" fill="#fff" stroke="#1c1c1c" stroke-width="1.01"/>
<line x1="551.6" y1="201.2" x2="551.6" y2="216.2" stroke="#1c1c1c" stroke-width="0.67"/>
<rect x="605" y="201" width="5.2" height="15.4" rx="0" fill="#fff" stroke="#1c1c1c" stroke-width="1.01"/>
<line x1="607.6" y1="201" x2="607.6" y2="216.4" stroke="#1c1c1c" stroke-width="0.67"/>
<rect x="542.9" y="203.4" width="2.7" height="9.8" rx="0" fill="#777" stroke="#1c1c1c" stroke-width="0.9"/>
<path d="M545.2 202.8 L545.2 220.7 L559.4 239.6 Q561 241.9 564 241.9 L571.4 241.9 Q574.6 241.9 574.6 245.4 L574.4 256 Q573.6 275 571.6 290.7" fill="none" stroke="#1c1c1c" stroke-width="1.46"/>
<path d="M614.8 197.6 L614.8 220.7 L600.6 239.6 Q599 241.9 596 241.9 L587.6 241.9 Q584.3 241.9 584.3 245.4 L584.3 257 Q584.3 264.6 590.5 264.6 L594.3 264.6" fill="none" stroke="#1c1c1c" stroke-width="1.46"/>
<path d="M547.5 202.8 L547.5 219.9 L561.1 237.9 Q562.3 239.6 565 239.6 L573.4 239.6 Q576.8 239.6 576.8 243.4 L576.7 258 Q576.5 276 576.2 290.7" fill="none" stroke="#1c1c1c" stroke-width="1.12"/>
<path d="M612.5 197.6 L612.5 219.9 L598.9 237.9 Q597.7 239.6 595 239.6 L585.4 239.6 Q582 239.6 582 243.4 L582 259 Q582 267.8 589.4 267.8 L594.3 267.8" fill="none" stroke="#1c1c1c" stroke-width="1.12"/>
<path d="M549.8 203 L549.8 219 L562.9 236.1 Q563.8 237.3 566 237.3 L594 237.3 Q596.2 237.3 597.1 236.1 L610.2 219 L610.2 203" fill="none" stroke="#1c1c1c" stroke-width="1.34"/>
<rect x="545.2" y="202.8" width="2.6" height="18.2" rx="1.2" fill="#333" stroke="#1c1c1c" stroke-width="0.67"/>
<rect x="610" y="197.4" width="4.8" height="23.6" rx="1.4" fill="#333" stroke="#1c1c1c" stroke-width="0.67"/>
<path d="M594.3 275 L592 275 Q588 275 588 280 L588.6 290.7" fill="none" stroke="#1c1c1c" stroke-width="1.29"/>
<path d="M594.3 272.6 L591 272.6 Q584.6 272.6 584.6 280 L585 290.7" fill="none" stroke="#1c1c1c" stroke-width="0.9"/>
<rect x="594.3" y="263.6" width="8.6" height="14.3" rx="1" fill="#fff" stroke="#1c1c1c" stroke-width="1.18"/>
<line x1="594.3" y1="267.46" x2="602.9" y2="267.46" stroke="#1c1c1c" stroke-width="0.78"/>
<line x1="594.3" y1="274.04" x2="602.9" y2="274.04" stroke="#1c1c1c" stroke-width="0.78"/>
<rect x="570" y="290.7" width="20" height="7.2" rx="1" fill="#fff" stroke="#1c1c1c" stroke-width="1.18"/>
<line x1="575.4" y1="290.7" x2="575.4" y2="297.9" stroke="#1c1c1c" stroke-width="0.78"/>
<line x1="584.6" y1="290.7" x2="584.6" y2="297.9" stroke="#1c1c1c" stroke-width="0.78"/>
<path d="M563.4 305 L563.4 303.6 Q563.4 302.2 566 301.8 Q580 299.8 594 301.8 Q596.8 302.2 596.8 303.6 L596.8 305 Z" fill="#666" stroke="#1c1c1c" stroke-width="1.12"/>
<rect x="574" y="305" width="1.8" height="19.6" rx="0" fill="#333" stroke="#1c1c1c" stroke-width="1.01"/>
<rect x="584.2" y="305" width="1.8" height="19.6" rx="0" fill="#333" stroke="#1c1c1c" stroke-width="1.01"/>
<path d="M567.9 325 Q567.9 327 570 327 L589.4 327 Q591.4 327 591.4 325" fill="none" stroke="#1c1c1c" stroke-width="1.12"/>
<line x1="567.9" y1="325.6" x2="591.4" y2="325.6" stroke="#1c1c1c" stroke-width="1.46"/>
<circle cx="568.8" cy="325.2" r="1.1" fill="none" stroke="#1c1c1c" stroke-width="0.78"/>
<circle cx="590.6" cy="325.2" r="1.1" fill="none" stroke="#1c1c1c" stroke-width="0.78"/>
<rect x="571.4" y="327.9" width="17.2" height="4.2" rx="0" fill="none" stroke="#1c1c1c" stroke-width="1.12"/>
<line x1="571.4" y1="330" x2="588.6" y2="330" stroke="#1c1c1c" stroke-width="0.67"/>
<rect x="574.3" y="332.1" width="11.4" height="10.1" rx="0" fill="none" stroke="#1c1c1c" stroke-width="1.12"/>
<line x1="576.4" y1="332.1" x2="576.4" y2="342.2" stroke="#1c1c1c" stroke-width="0.67"/>
<line x1="583.6" y1="332.1" x2="583.6" y2="342.2" stroke="#1c1c1c" stroke-width="0.67"/>
<path d="M613.4 203 L628 203.3 Q640 204.6 651.4 215.2" fill="none" stroke="#1c1c1c" stroke-width="1.23"/>
<path d="M613.4 212.6 L627 212.9 Q637 214.4 644.3 222.3" fill="none" stroke="#1c1c1c" stroke-width="1.23"/>
<path d="M613.4 206.2 L627.6 206.5 Q639 208 648.8 217.6" fill="none" stroke="#1c1c1c" stroke-width="0.78"/>
<path d="M613.4 209.8 L627.3 210.1 Q638 211.6 646.6 220" fill="none" stroke="#1c1c1c" stroke-width="0.78"/>
<line x1="644.3" y1="222.3" x2="651.4" y2="215.2" stroke="#1c1c1c" stroke-width="1.01"/>
<line x1="646.2" y1="223.6" x2="652.8" y2="217" stroke="#1c1c1c" stroke-width="1.01"/>
<path d="M651.4 215.2 C652.25 215.53 654.35 217.3 656.5 217.2 C658.65 217.1 662.05 214.83 664.3 214.6 C666.55 214.37 667.97 214.73 670 215.8 C672.03 216.87 675.42 220.13 676.5 221" fill="none" stroke="#1c1c1c" stroke-width="1.18"/>
<path d="M644.3 222.3 C643.88 223.15 641.68 225.68 641.8 227.4 C641.92 229.12 645 230.67 645 232.6 C645 234.53 641.92 236.87 641.8 239 C641.68 241.13 643.02 243.8 644.3 245.4 C645.58 247 648.63 248.07 649.5 248.6" fill="none" stroke="#1c1c1c" stroke-width="1.18"/>
<path d="M652.6 217.4 C653.33 217.9 655.1 220.1 657 220.4 C658.9 220.7 662.07 218.83 664 219.2 C665.93 219.57 667.83 222.03 668.6 222.6" fill="none" stroke="#1c1c1c" stroke-width="0.67"/>
<path d="M646.4 224 C646.67 224.83 647.93 227.33 648 229 C648.07 230.67 646.4 232.07 646.8 234 C647.2 235.93 649.8 239.5 650.4 240.6" fill="none" stroke="#1c1c1c" stroke-width="0.67"/>
<path d="M649.5 248.6 L676.5 221 L673.9 218.4 L646.6 245.6 Z" fill="#fff" stroke="#1c1c1c" stroke-width="1.12"/>
<line x1="649.9" y1="249" x2="676.9" y2="221.4" stroke="#1c1c1c" stroke-width="1.79" stroke-dasharray="0.7 0.7"/>
<text x="501.4" y="189.3" font-size="11.44" fill="#1a1a1a" stroke="#1a1a1a" stroke-width="0.3" textLength="20.7" lengthAdjust="spacingAndGlyphs">1/2<tspan font-size="8.24" dy="-2.97">&quot;</tspan></text>
<line x1="500" y1="192.1" x2="527.9" y2="192.1" stroke="#4a4a4a" stroke-width="0.69"/>
<line x1="527.9" y1="192.1" x2="535" y2="200.7" stroke="#4a4a4a" stroke-width="0.69"/>
<polygon points="535.2,201 530.22,196.68 531.91,195.28" fill="#1c1c1c"/>
<text x="530" y="264.3" font-size="12.48" fill="#1a1a1a" stroke="#1a1a1a" stroke-width="0.3" textLength="27" lengthAdjust="spacingAndGlyphs">3/4<tspan font-size="8.99" dy="-3.24">&quot;</tspan></text>
<line x1="528.6" y1="268.3" x2="552.1" y2="268.3" stroke="#4a4a4a" stroke-width="0.69"/>
<line x1="552.1" y1="268.3" x2="570" y2="290.5" stroke="#4a4a4a" stroke-width="0.69"/>
<polygon points="570.2,290.8 565.29,286.41 567,285.03" fill="#1c1c1c"/>
<text x="611.4" y="251.3" font-size="12.48" fill="#1a1a1a" stroke="#1a1a1a" stroke-width="0.3" textLength="27.2" lengthAdjust="spacingAndGlyphs">1/2<tspan font-size="8.99" dy="-3.24">&quot;</tspan></text>
<line x1="607.8" y1="255.9" x2="632.9" y2="255.9" stroke="#4a4a4a" stroke-width="0.69"/>
<line x1="607.8" y1="255.9" x2="603" y2="262.6" stroke="#4a4a4a" stroke-width="0.69"/>
<polygon points="602.8,262.9 605.69,256.97 607.48,258.26" fill="#1c1c1c"/>
<text x="542.1" y="353.6" font-size="13" fill="#1a1a1a" stroke="#1a1a1a" stroke-width="0.3" textLength="26.5" lengthAdjust="spacingAndGlyphs">1/2<tspan font-size="9.36" dy="-3.38">&quot;</tspan></text>
<line x1="542.1" y1="356.9" x2="567.1" y2="356.9" stroke="#4a4a4a" stroke-width="0.69"/>
<line x1="567.1" y1="356.9" x2="575" y2="345" stroke="#4a4a4a" stroke-width="0.69"/>
<polygon points="575.2,344.7 572.52,350.72 570.69,349.51" fill="#1c1c1c"/>
<line x1="527.6" y1="304.3" x2="527.6" y2="325" stroke="#4a4a4a" stroke-width="0.69"/>
<polygon points="527.6,304.3 528.7,310.3 526.5,310.3" fill="#1c1c1c"/>
<polygon points="527.6,325 526.5,319 528.7,319" fill="#1c1c1c"/>
<line x1="526.8" y1="304.3" x2="563" y2="304.3" stroke="#4a4a4a" stroke-width="0.69"/>
<line x1="526.8" y1="325" x2="568" y2="325" stroke="#4a4a4a" stroke-width="0.69"/>
<text x="500" y="318.6" font-size="10.6" text-anchor="start" fill="#1a1a1a" font-weight="normal" stroke="#1a1a1a" stroke-width="0.45" textLength="22.9" lengthAdjust="spacingAndGlyphs">0÷40</text>
<line x1="563" y1="305.4" x2="563" y2="320.8" stroke="#999" stroke-width="0.69"/>
<line x1="597" y1="305.4" x2="597" y2="320.8" stroke="#999" stroke-width="0.69"/>
<line x1="555.7" y1="320" x2="563" y2="320" stroke="#4a4a4a" stroke-width="0.69"/>
<polygon points="563,320 556.5,321.1 556.5,318.9" fill="#1c1c1c"/>
<line x1="597" y1="320" x2="630.7" y2="320" stroke="#4a4a4a" stroke-width="0.69"/>
<polygon points="597,320 603.5,318.9 603.5,321.1" fill="#1c1c1c"/>
<text x="607.1" y="317.1" font-size="10.6" text-anchor="start" fill="#1a1a1a" font-weight="normal" stroke="#1a1a1a" stroke-width="0.45" textLength="20.8" lengthAdjust="spacingAndGlyphs">ø60</text>
</g>
<line x1="560.5" y1="676.3" x2="651" y2="676.3" stroke="#e0e0e0" stroke-width="1.01" stroke-dasharray="9 2 11 3 7 2 12 2 6 3 8 2"/>
</svg></body></html>
